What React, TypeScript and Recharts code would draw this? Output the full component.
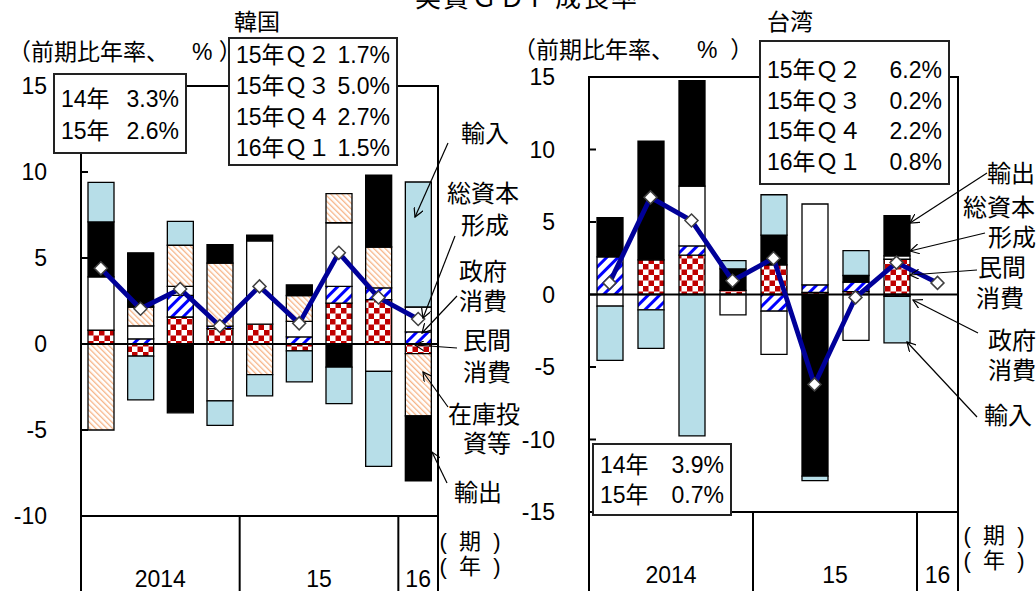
import React from 'react';
import { ComposedChart, Bar, Line, XAxis, YAxis, ReferenceLine, ReferenceArea } from 'recharts';

const quarters = ['14Q1', '14Q2', '14Q3', '14Q4', '15Q1', '15Q2', '15Q3', '15Q4', '16Q1'];
const yearLabels = ['2014', '15', '16'];

// 韓国: contributions (% pt, annualised)
const krPrivate = [0.8, -0.7, 1.57, 0.89, 1.15, -0.4, 2.38, 2.58, -0.56];
const krGov = [0, 0.3, 1.26, 0.15, 0, 0.41, 0.97, 0.68, 0.7];
const krCapital = [3.1, 0.75, 0.52, -3.31, 4.85, 0.9, 3.7, -1.59, 1.45];
const krInventory = [-5.0, 1.1, 2.39, 3.66, -1.78, 1.51, 1.69, 2.38, -3.62];
const krExports = [3.2, 3.15, -4.0, 1.07, 0.33, 0.62, -1.34, 4.17, -3.77];
const krImports = [2.3, -2.55, 1.39, -1.42, -1.24, -1.8, -2.13, -5.52, 7.27];
const krGdp = [4.4, 2.05, 3.2, 1.05, 3.35, 1.2, 5.3, 2.7, 1.45];

// 台湾
const twPrivate = [0, 2.39, 2.71, 0.28, 2.04, 0.15, 0.2, 2.43, null];
const twGov = [2.59, -1.06, 0.64, 0, -1.15, 0.52, 0.65, -0.12, null];
const twCapital = [-0.8, 0, 4.13, -1.4, -2.98, 5.57, -3.17, 0.23, null];
const twExports = [2.71, 8.18, 7.27, 1.49, 2.06, -12.52, 0.46, 2.78, null];
const twImports = [-3.74, -2.65, -9.75, 0.57, 2.78, -0.32, 1.72, -3.21, null];
const twGdp = [0.8, 6.7, 5.1, 0.95, 2.5, -6.2, -0.2, 2.2, 0.8];

const krYearSummary = [['14年', '3.3%'], ['15年', '2.6%']];
const krQuarterSummary = [['15年Ｑ２', '1.7%'], ['15年Ｑ３', '5.0%'], ['15年Ｑ４', '2.7%'], ['16年Ｑ１', '1.5%']];
const twQuarterSummary = [['15年Ｑ２', '6.2%'], ['15年Ｑ３', '0.2%'], ['15年Ｑ４', '2.2%'], ['16年Ｑ１', '0.8%']];
const twYearSummary = [['14年', '3.9%'], ['15年', '0.7%']];

const FONT = "'Liberation Sans', 'Noto Sans CJK JP', sans-serif";

const krRows = quarters.map((q, i) => ({
  q,
  private: krPrivate[i],
  gov: krGov[i],
  capital: krCapital[i],
  inventory: krInventory[i],
  exports: krExports[i],
  imports: krImports[i],
  gdp: krGdp[i],
}));

const twRows = quarters.map((q, i) => ({
  q,
  private: twPrivate[i],
  gov: twGov[i],
  capital: twCapital[i],
  exports: twExports[i],
  imports: twImports[i],
  gdp: twGdp[i],
}));

const krSeries = [
  { key: 'private', fill: 'url(#pChk)' },
  { key: 'gov', fill: 'url(#pStr)' },
  { key: 'capital', fill: '#ffffff' },
  { key: 'inventory', fill: 'url(#pOrg)' },
  { key: 'exports', fill: '#000000' },
  { key: 'imports', fill: '#b7dee8' },
];
const twSeries = krSeries.filter(s => s.key !== 'inventory');

const Diamond = (props: any) => {
  const { cx, cy, index } = props;
  if (cx == null || cy == null) return null;
  const r = 6.5;
  return (
    <polygon
      key={`d-${index}`}
      points={`${cx},${cy - r} ${cx + r},${cy} ${cx},${cy + r} ${cx - r},${cy}`}
      fill="#fff"
      stroke="#404040"
      strokeWidth={1.5}
    />
  );
};

const makeYTick = (margin: number) => (props: any) => {
  const { x, y, payload } = props;
  return (
    <g>
      <line x1={x + margin} x2={x + margin + 7} y1={y} y2={y} stroke="#000" strokeWidth={2} />
      <text x={x} y={y} dy="0.36em" textAnchor="end" fontSize={23} fontFamily={FONT} fill="#000">
        {payload.value}
      </text>
    </g>
  );
};

const years = Array.from(new Set(quarters.map(q => q.slice(0, 2))));

const makeXTick = (band: number, labelDy: number) => (props: any) => {
  const { x, y, payload } = props;
  const i = props.index ?? payload.index;
  const yr = quarters[i].slice(0, 2);
  const group = quarters.map((q, j) => j).filter(j => quarters[j].slice(0, 2) === yr);
  const isFirst = group[0] === i;
  const isLast = i === quarters.length - 1;
  const left = x - band / 2;
  return (
    <g>
      {isFirst && <line x1={left} x2={left} y1={y} y2={y + 90} stroke="#000" strokeWidth={2} />}
      {isLast && <line x1={x + band / 2} x2={x + band / 2} y1={y} y2={y + 90} stroke="#000" strokeWidth={2} />}
      {isFirst && (
        <text x={left + (band * group.length) / 2} y={y + labelDy} textAnchor="middle" fontSize={23} fontFamily={FONT} fill="#000">
          {yearLabels[years.indexOf(yr)]}
        </text>
      )}
    </g>
  );
};

function Panel({ rows, series, left, width, axisW, top, xH, plotW, domain, ticks }: any) {
  const band = plotW / quarters.length;
  return (
    <div style={{ position: 'absolute', left, top: 0, width, height: 591 }}>
      <ComposedChart
        width={width}
        height={591}
        data={rows}
        stackOffset="sign"
        barSize={26}
        margin={{ top, right: width - axisW - plotW, bottom: 0, left: 0 }}
      >
        <XAxis
          dataKey="q"
          interval={0}
          height={xH}
          tickSize={0}
          tickMargin={0}
          tickLine={false}
          axisLine={false}
          tick={makeXTick(band, 71)}
        />
        <YAxis
          type="number"
          domain={domain}
          ticks={ticks}
          width={axisW}
          tickSize={0}
          tickMargin={34}
          tickLine={false}
          axisLine={{ stroke: '#000', strokeWidth: 2 }}
          tick={makeYTick(34)}
          allowDataOverflow
        />
        <ReferenceArea y1={domain[0]} y2={domain[1]} fill="none" stroke="#000" strokeWidth={2} />
        {series.map((s: any) => (
          <Bar
            key={s.key}
            dataKey={s.key}
            stackId="c"
            fill={s.fill}
            stroke="#000"
            strokeWidth={1.3}
            isAnimationActive={false}
          />
        ))}
        <ReferenceLine y={0} stroke="#000" strokeWidth={2} />
        <Line
          dataKey="gdp"
          stroke="#000099"
          strokeWidth={4.8}
          dot={Diamond}
          activeDot={false}
          isAnimationActive={false}
        />
      </ComposedChart>
    </div>
  );
}

const sideLabels = [
  { t: '輸入', x: 485, y: 134 },
  { t: '総資本', x: 483, y: 194 },
  { t: '形成', x: 485, y: 226 },
  { t: '政府', x: 483, y: 272 },
  { t: '消費', x: 483, y: 302 },
  { t: '民間', x: 487, y: 341 },
  { t: '消費', x: 487, y: 373 },
  { t: '在庫投', x: 484, y: 415 },
  { t: '資等', x: 487, y: 444 },
  { t: '輸出', x: 478, y: 493 },
  { t: '(  期  )', x: 470, y: 542, s: 22 },
  { t: '(  年  )', x: 470, y: 567, s: 22 },
  { t: '輸出', x: 1011, y: 174 },
  { t: '総資本', x: 999, y: 208 },
  { t: '形成', x: 1012, y: 238 },
  { t: '民間', x: 1002, y: 268 },
  { t: '消費', x: 1000, y: 299 },
  { t: '政府', x: 1012, y: 341 },
  { t: '消費', x: 1012, y: 371 },
  { t: '輸入', x: 1008, y: 416 },
  { t: '(  期  )', x: 994, y: 536, s: 22 },
  { t: '(  年  )', x: 994, y: 561, s: 22 },
];

const arrows = [
  [448, 143, 415, 217],
  [455, 236, 423, 318],
  [457, 296, 422, 333],
  [457, 348, 415, 345],
  [448, 407, 423, 372],
  [447, 483, 432, 452],
  [987, 173, 910, 223],
  [985, 233, 910, 251],
  [977, 270, 910, 275],
  [978, 333, 913, 300],
  [977, 417, 907, 342],
];

function SummaryBox({ rows, left, top, width, height, pad, lineH }: any) {
  return (
    <div
      style={{
        position: 'absolute',
        left,
        top,
        width,
        height,
        boxSizing: 'border-box',
        border: '2px solid #222',
        background: '#fff',
        padding: `${pad}px 6px 0 6px`,
        fontFamily: FONT,
        fontSize: 23,
        lineHeight: `${lineH}px`,
      }}
    >
      {rows.map((r: string[], i: number) => (
        <div key={i} style={{ display: 'flex', justifyContent: 'space-between', whiteSpace: 'nowrap' }}>
          <span>{r[0]}</span>
          <span>{r[1]}</span>
        </div>
      ))}
    </div>
  );
}

const krUnitLabel = '（前期比年率、　% ）';
const twUnitLabel = '（前期比年率、　%  ）';

export default function App() {
  return (
    <div
      style={{
        position: 'absolute',
        left: 0,
        top: 0,
        width: 1036,
        height: 591,
        overflow: 'hidden',
        background: '#fff',
        fontFamily: FONT,
        color: '#000',
        textSpacingTrim: 'space-all',
      } as any}
    >
      <svg width={0} height={0} style={{ position: 'absolute' }}>
        <defs>
          <pattern id="pChk" width={11} height={11} patternUnits="userSpaceOnUse">
            <rect width={11} height={11} fill="#fff" />
            <rect width={5.5} height={5.5} fill="#c00000" />
            <rect x={5.5} y={5.5} width={5.5} height={5.5} fill="#c00000" />
          </pattern>
          <pattern id="pStr" width={8} height={8} patternUnits="userSpaceOnUse" patternTransform="rotate(45)">
            <rect width={8} height={8} fill="#fff" />
            <rect width={3} height={8} fill="#0000ff" />
          </pattern>
          <pattern id="pOrg" width={4} height={4} patternUnits="userSpaceOnUse" patternTransform="rotate(-45)">
            <rect width={4} height={4} fill="#fff" />
            <rect width={1.3} height={4} fill="#f6b487" />
          </pattern>
        </defs>
      </svg>

      <Panel rows={krRows} series={krSeries} left={0} width={460} axisW={81} top={86} xH={75} plotW={357}
        domain={[-10, 15]} ticks={[-10, -5, 0, 5, 10, 15]} />
      <Panel rows={twRows} series={twSeries} left={500} width={480} axisW={89} top={77} xH={79} plotW={369}
        domain={[-15, 15]} ticks={[-15, -10, -5, 0, 5, 10, 15]} />

      <div style={{ position: 'absolute', left: 527, top: -15, transform: 'translateX(-50%)', fontSize: 26, letterSpacing: 2, whiteSpace: 'nowrap', lineHeight: '26px' }}>
        実質ＧＤＰ成長率
      </div>
      <div style={{ position: 'absolute', left: 257, top: 8, transform: 'translateX(-50%)', fontSize: 23, lineHeight: '28px' }}>韓国</div>
      <div style={{ position: 'absolute', left: 790, top: 8, transform: 'translateX(-50%)', fontSize: 23, lineHeight: '28px' }}>台湾</div>
      <div style={{ position: 'absolute', left: 8, top: 38, fontSize: 23, lineHeight: '28px', whiteSpace: 'pre' }}>{krUnitLabel}</div>
      <div style={{ position: 'absolute', left: 513, top: 36, fontSize: 23, lineHeight: '28px', whiteSpace: 'pre' }}>{twUnitLabel}</div>

      <SummaryBox rows={krYearSummary} left={53} top={73} width={134} height={81} pad={8} lineH={32} />
      <SummaryBox rows={krQuarterSummary} left={228} top={37} width={170} height={129} pad={1} lineH={31} />
      <SummaryBox rows={twQuarterSummary} left={759} top={40} width={191} height={145} pad={13} lineH={30.5} />
      <SummaryBox rows={twYearSummary} left={592} top={443} width={140} height={73} pad={5} lineH={30} />

      {sideLabels.map((l, i) => (
        <div
          key={i}
          style={{
            position: 'absolute',
            left: l.x,
            top: l.y,
            transform: 'translate(-50%, -50%)',
            fontSize: l.s ?? 24,
            lineHeight: 1,
            whiteSpace: 'pre',
          }}
        >
          {l.t}
        </div>
      ))}

      <svg width={1036} height={591} style={{ position: 'absolute', left: 0, top: 0, pointerEvents: 'none' }}>
        <defs>
          <marker id="arr" markerWidth={10} markerHeight={10} refX={9} refY={5} orient="auto" markerUnits="userSpaceOnUse">
            <path d="M0,0 L9,5 L0,10" fill="none" stroke="#000" strokeWidth={1.2} />
          </marker>
        </defs>
        {arrows.map((a, i) => (
          <line key={i} x1={a[0]} y1={a[1]} x2={a[2]} y2={a[3]} stroke="#000" strokeWidth={1.2} markerEnd="url(#arr)" />
        ))}
      </svg>
    </div>
  );
}
